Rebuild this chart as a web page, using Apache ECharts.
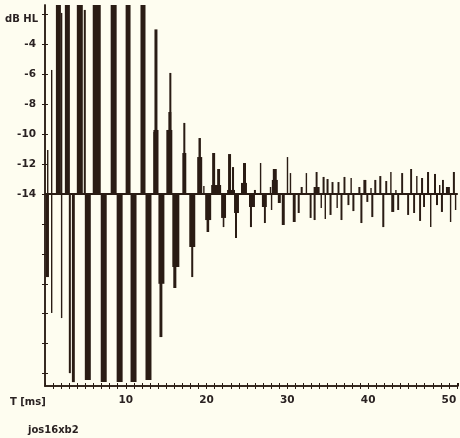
<!DOCTYPE html>
<html>
<head>
<meta charset="utf-8">
<script src="https://cdn.jsdelivr.net/npm/echarts@6/dist/echarts.min.js"></script>
<style>
html,body{margin:0;padding:0;background:#fefdf0;}
#chart-panel{width:460px;height:438px;}
</style>
</head>
<body>
<div id="chart-panel"></div>
<script>
// baseline of the trace (dB HL)
var BASE = -14;
var INK = '#2a1c14';

// y ticks / labels
var yTicks = [-2, -4, -6, -8, -10, -12, -14, -16, -18, -20, -22, -24, -26];
var yLabels = [-4, -6, -8, -10, -12, -14];
var xLabels = [10, 20, 30, 40, 50];

// spikes above the baseline: [t start ms, t end ms, dB]
var spikesUp = [
	[0.25, 0.37, -11.06], [0.74, 0.86, -5.71],
	[1.35, 1.97, -1], [1.97, 2.09, -1.9],
	[2.46, 3.08, -1],
	[3.94, 4.68, -1], [4.80, 5.05, -1.7],
	[5.91, 6.90, -1],
	[8.13, 8.87, -1],
	[9.98, 10.59, -1],
	[11.82, 12.44, -1],
	[13.42, 14.05, -9.72], [13.42, 13.55, -9.86], [13.55, 13.92, -3.0],
	[15.02, 15.76, -9.72], [15.27, 15.64, -8.52], [15.39, 15.64, -5.91],
	[17.00, 17.49, -11.26], [17.12, 17.37, -9.25],
	[18.84, 19.46, -11.53], [19.00, 19.30, -10.26], [19.58, 19.70, -13.47],
	[20.57, 21.80, -13.4], [20.69, 21.06, -11.26], [21.31, 21.67, -12.33],
	[22.54, 23.52, -13.73], [22.66, 23.03, -11.33], [23.15, 23.40, -12.2],
	[24.26, 25.00, -13.26], [24.51, 24.88, -11.93],
	[25.86, 26.11, -13.73], [26.60, 26.72, -11.93], [27.83, 27.96, -13.53],
	[28.08, 28.82, -13.06], [28.20, 28.69, -12.33],
	[29.93, 30.05, -11.53], [30.30, 30.42, -12.60], [31.65, 31.90, -13.53],
	[32.27, 32.39, -12.60], [33.25, 33.99, -13.53], [33.50, 33.74, -12.53],
	[34.36, 34.61, -12.86], [34.85, 35.10, -13.0], [35.47, 35.71, -13.2],
	[36.21, 36.45, -13.2], [36.95, 37.19, -12.86], [37.81, 37.93, -12.93],
	[38.79, 39.04, -13.53], [39.41, 39.78, -13.06], [40.27, 40.39, -13.6],
	[40.76, 41.01, -13.06], [41.38, 41.63, -12.8], [42.12, 42.36, -13.13],
	[42.73, 42.86, -12.53], [43.35, 43.47, -13.73], [44.09, 44.33, -12.6],
	[45.20, 45.44, -12.33], [45.94, 46.06, -12.8], [46.55, 46.80, -12.93],
	[47.29, 47.54, -12.53], [48.15, 48.40, -12.66], [48.77, 48.89, -13.4],
	[49.14, 49.38, -13.06], [49.63, 50.12, -13.53], [50.49, 50.74, -12.53]
];

// spikes below the baseline: [t start ms, t end ms, dB]
var spikesDown = [
	[0.12, 0.49, -19.55], [0.74, 0.86, -21.95],
	[1.97, 2.09, -22.29],
	[2.95, 3.20, -25.97], [3.33, 3.69, -26.57],
	[4.93, 5.67, -26.43],
	[6.90, 7.64, -26.57],
	[8.87, 9.61, -26.57],
	[10.59, 11.33, -26.57],
	[12.44, 13.18, -26.43],
	[14.04, 14.78, -20.0], [14.17, 14.53, -23.56],
	[15.76, 16.63, -18.88], [15.88, 16.26, -20.28],
	[17.86, 18.60, -17.54], [18.10, 18.35, -19.55],
	[19.83, 20.57, -15.74], [20.00, 20.32, -16.54],
	[21.80, 22.41, -15.6], [22.00, 22.20, -16.21],
	[23.40, 24.01, -15.27], [23.52, 23.77, -16.94],
	[25.25, 25.99, -14.87], [25.37, 25.62, -16.21],
	[26.85, 27.46, -14.87], [27.10, 27.34, -15.94],
	[27.96, 28.08, -15.07], [28.82, 29.19, -14.6], [29.31, 29.68, -16.07],
	[30.67, 31.03, -15.87], [31.28, 31.53, -15.27], [32.76, 33.00, -15.6],
	[33.25, 33.50, -15.74], [34.11, 34.24, -14.94], [34.61, 34.73, -15.67],
	[35.22, 35.47, -15.4], [36.08, 36.21, -14.94], [36.58, 36.82, -15.74],
	[37.44, 37.68, -14.74], [38.05, 38.30, -15.14],
	[39.04, 39.29, -15.94], [39.78, 40.02, -14.53], [40.39, 40.64, -15.54],
	[41.75, 42.00, -16.21], [42.86, 43.23, -15.2], [43.60, 43.84, -15.07],
	[44.83, 45.07, -15.4], [45.57, 45.81, -15.27], [46.31, 46.55, -15.8],
	[46.80, 47.04, -14.87], [47.66, 47.78, -16.21], [48.40, 48.65, -14.74],
	[49.01, 49.26, -15.2], [50.12, 50.25, -15.87], [50.74, 50.86, -15.07]
];

var myChart = echarts.init(document.getElementById('chart-panel'));

var FONT = 'DejaVu Sans';
var txt = {fill: '#2a2222', fontFamily: FONT, fontSize: 10, fontWeight: 'bold'};

function renderSpike(params, api) {
	var p0 = api.coord([api.value(0), BASE]);
	var p1 = api.coord([api.value(1), api.value(2)]);
	var w = Math.max(p1[0] - p0[0], 1.4);
	var shape = echarts.graphic.clipRectByRect({
		x: p0[0],
		y: Math.min(p0[1], p1[1]),
		width: w,
		height: Math.abs(p1[1] - p0[1])
	}, {
		x: params.coordSys.x,
		y: params.coordSys.y,
		width: params.coordSys.width,
		height: params.coordSys.height
	});
	if (!shape) return;
	return {type: 'rect', shape: shape, style: {fill: INK}};
}

var yBase = {
	type: 'value',
	min: -26.83,
	max: -1.37,
	position: 'left',
	axisLine: {show: true, onZero: false, lineStyle: {color: INK, width: 1.5}},
	splitLine: {show: false}
};
var xBase = {
	type: 'value',
	min: 0,
	max: 51.1,
	interval: 1,
	position: 'bottom',
	axisLine: {show: true, onZero: false, lineStyle: {color: INK, width: 1.5}},
	splitLine: {show: false}
};

option = {
	backgroundColor: '#fefdf0',
	animation: false,
	grid: {left: 45, right: 0, top: 5, bottom: 52},
	xAxis: [
		echarts.util.merge({
			axisTick: {show: true, length: 3, lineStyle: {color: INK, width: 1}},
			axisLabel: {
				margin: 9,
				showMinLabel: false,
				showMaxLabel: false,
				formatter: function (v) {
					return xLabels.indexOf(v) >= 0 ? String(v) : '';
				},
				color: '#2a2222', fontFamily: FONT, fontSize: 10.5, fontWeight: 'bold'
			}
		}, xBase, true),
		echarts.util.merge({
			axisTick: {show: true, inside: true, length: 3, lineStyle: {color: INK, width: 1}},
			axisLabel: {show: false}
		}, xBase, true)
	],
	yAxis: [
		echarts.util.merge({
			axisTick: {show: true, length: 3, customValues: yTicks, lineStyle: {color: INK, width: 1}},
			axisLabel: {
				margin: 9,
				customValues: yLabels,
				color: '#2a2222', fontFamily: FONT, fontSize: 10.5, fontWeight: 'bold'
			}
		}, yBase, true),
		echarts.util.merge({
			axisTick: {show: true, inside: true, length: 3, customValues: yTicks, lineStyle: {color: INK, width: 1}},
			axisLabel: {show: false}
		}, yBase, true)
	],
	graphic: [
		{type: 'text', left: 5, top: 14, style: echarts.util.extend({text: 'dB HL'}, txt)},
		{type: 'text', left: 10, top: 397, style: echarts.util.extend({text: 'T [ms]'}, txt)},
		{type: 'text', left: 28, top: 425, style: echarts.util.extend({text: 'jos16xb2'}, txt)}
	],
	series: [
		{
			name: 'up',
			type: 'custom',
			renderItem: renderSpike,
			encode: {x: [0, 1], y: 2},
			data: spikesUp,
			markLine: {
				silent: true,
				symbol: 'none',
				label: {show: false},
				lineStyle: {color: INK, width: 2, type: 'solid'},
				data: [{yAxis: BASE}]
			}
		},
		{
			name: 'down',
			type: 'custom',
			renderItem: renderSpike,
			encode: {x: [0, 1], y: 2},
			data: spikesDown
		}
	]
};
myChart.setOption(option);
</script>
</body>
</html>
